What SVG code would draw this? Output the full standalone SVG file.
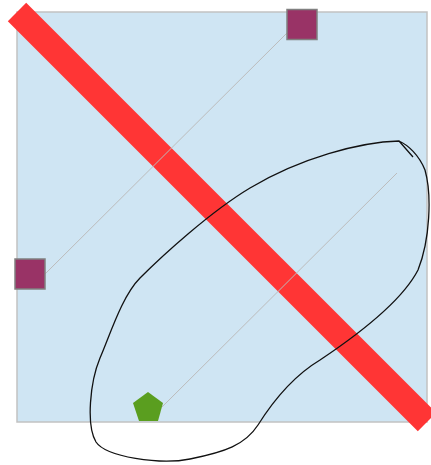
<svg xmlns="http://www.w3.org/2000/svg" width="431" height="465" viewBox="0 0 431 465">
<style>
.conn{stroke:#bcbcbc;stroke-width:1;fill:none}
.sq{fill:#993366;stroke:#808080;stroke-width:1.5}
</style>
<rect id="board" x="17" y="12" width="410" height="410" fill="#cfe5f3" stroke="#c2c2c2" stroke-width="1.5"/>
<line id="strike" x1="17" y1="12" x2="427" y2="422" stroke="#ff3535" stroke-width="26"/>
<g id="connectors">
<line class="conn" x1="42" y1="277" x2="287" y2="33"/>
<line class="conn" x1="162" y1="407" x2="397" y2="173"/>
</g>
<g id="node-top"><rect class="sq" x="287" y="9.5" width="30" height="30"/></g>
<g id="node-left"><rect class="sq" x="15" y="259" width="30" height="30"/></g>
<g id="node-pentagon"><polygon points="148,392 163,403 158,421 139,421 133,403" fill="#5a9e1f"/></g>
<path id="lasso" d="M 413 157 L 399 141 C 360 142, 300 158, 250 188 C 210 212, 162 256, 140 278 C 122 296, 110 335, 100 358 C 90 382, 86 425, 96 442 C 106 457, 160 465, 190 459 C 225 452, 245 445, 258 425 C 275 398, 295 375, 320 360 C 350 340, 400 305, 418 270 C 430 240, 432 195, 425 170 C 419 155, 408 145, 399 141" fill="none" stroke="#111" stroke-width="1.3"/>
</svg>
